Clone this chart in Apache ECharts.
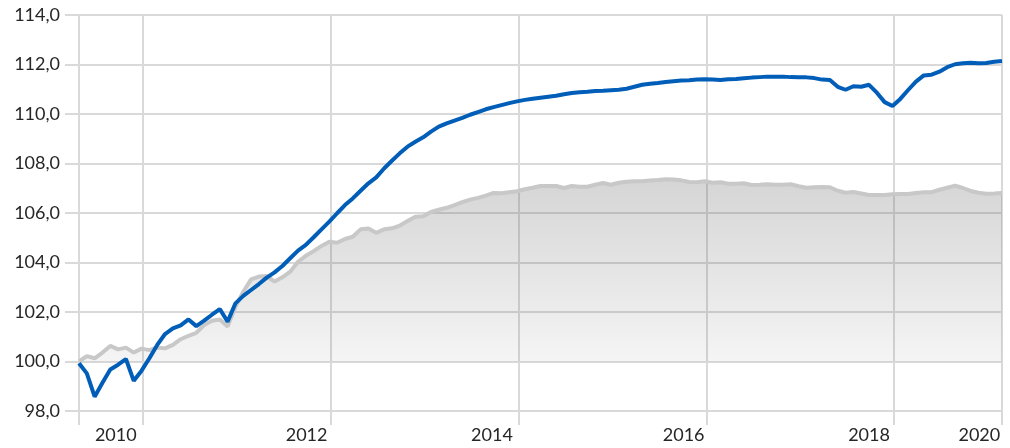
<!DOCTYPE html>
<html>
<head>
<meta charset="utf-8">
<script src="https://cdn.jsdelivr.net/npm/echarts@6/dist/echarts.min.js"></script>
<style>
  html, body { margin: 0; padding: 0; background: #fff; }
  #chart { width: 1010px; height: 448px; }
</style>
</head>
<body>
<div id="chart"></div>
<script>
// monthly index values, first point = index 0
const indexBlue = [
  99.93, 99.52, 98.58, 99.14, 99.68, 99.87, 100.10, 99.22, 99.63, 100.13,
  100.67, 101.11, 101.34, 101.46, 101.70, 101.43, 101.65, 101.89, 102.12, 101.61,
  102.35, 102.65, 102.89, 103.13, 103.39, 103.60, 103.86, 104.17, 104.48, 104.71,
  105.02, 105.34, 105.65, 105.99, 106.32, 106.59, 106.90, 107.20, 107.44, 107.80,
  108.11, 108.41, 108.68, 108.88, 109.06, 109.29, 109.49, 109.62, 109.73, 109.84,
  109.97, 110.08, 110.19, 110.28, 110.36, 110.44, 110.51, 110.57, 110.62, 110.66,
  110.70, 110.74, 110.80, 110.85, 110.88, 110.90, 110.93, 110.94, 110.96, 110.98,
  111.02, 111.10, 111.18, 111.22, 111.25, 111.29, 111.32, 111.35, 111.36, 111.39,
  111.40, 111.39, 111.37, 111.40, 111.41, 111.44, 111.47, 111.49, 111.51, 111.51,
  111.51, 111.49, 111.48, 111.48, 111.45, 111.39, 111.37, 111.10, 110.98, 111.12,
  111.10, 111.18, 110.86, 110.48, 110.32, 110.61, 110.97, 111.31, 111.56, 111.59,
  111.71, 111.89, 112.01, 112.05, 112.07, 112.05, 112.06, 112.11, 112.14
]
const indexGrey = [
  100.00, 100.22, 100.13, 100.36, 100.63, 100.49, 100.56, 100.36, 100.52, 100.46,
  100.57, 100.53, 100.67, 100.90, 101.04, 101.16, 101.47, 101.65, 101.70, 101.41,
  102.21, 102.82, 103.32, 103.43, 103.45, 103.23, 103.40, 103.63, 104.03, 104.27,
  104.46, 104.67, 104.84, 104.80, 104.95, 105.04, 105.34, 105.37, 105.20, 105.34,
  105.38, 105.49, 105.68, 105.85, 105.87, 106.04, 106.13, 106.21, 106.32, 106.44,
  106.54, 106.61, 106.70, 106.81, 106.80, 106.84, 106.88, 106.96, 107.02, 107.09,
  107.09, 107.09, 107.01, 107.09, 107.06, 107.06, 107.14, 107.21, 107.14, 107.22,
  107.26, 107.28, 107.28, 107.31, 107.33, 107.36, 107.35, 107.32, 107.25, 107.24,
  107.28, 107.22, 107.24, 107.18, 107.18, 107.20, 107.13, 107.14, 107.16, 107.14,
  107.14, 107.16, 107.08, 107.02, 107.04, 107.05, 107.04, 106.90, 106.82, 106.85,
  106.79, 106.73, 106.73, 106.73, 106.76, 106.77, 106.77, 106.81, 106.84, 106.84,
  106.94, 107.02, 107.10, 107.01, 106.89, 106.82, 106.78, 106.79, 106.81
]
const yearLabels = ['2010', '2012', '2014', '2016', '2018', '2020']

// where gridlines and year labels sit on the month index axis
const gridMonths = [0, 8.2, 32.2, 56.2, 80.2, 104.2, 118]
const labelMonths = [4.7, 29.1, 52.8, 77.3, 101.0, 115.1]

const gridColor = '#d9d9d9'
const textColor = '#262626'

const toPairs = (list) => list.map((v, i) => [i, v])

const chart = echarts.init(document.getElementById('chart'))
chart.setOption({
  animation: false,
  grid: { left: 79, right: 8, top: 15, bottom: 37 },
  xAxis: {
    type: 'value',
    min: 0,
    max: indexBlue.length - 1,
    axisLine: { show: false },
    axisTick: {
      show: true,
      length: 14,
      customValues: gridMonths,
      lineStyle: { color: gridColor, width: 2 }
    },
    splitLine: { show: true, lineStyle: { color: gridColor, width: 2 } },
    axisLabel: {
      customValues: labelMonths,
      margin: 15,
      color: textColor,
      fontFamily: 'Lato',
      fontSize: 18,
      formatter: (value) => {
        const k = labelMonths.indexOf(value)
        return k >= 0 ? yearLabels[k] : ''
      }
    }
  },
  yAxis: {
    type: 'value',
    min: 98,
    max: 114,
    interval: 2,
    axisLine: { show: false },
    axisTick: { show: true, length: 14, lineStyle: { color: gridColor, width: 2 } },
    splitLine: { lineStyle: { color: gridColor, width: 2 } },
    axisLabel: {
      margin: 19,
      color: textColor,
      fontFamily: 'Lato',
      fontSize: 18,
      formatter: (value) => value.toFixed(1).replace('.', ',')
    }
  },
  series: [
    {
      type: 'line',
      data: toPairs(indexGrey),
      showSymbol: false,
      lineStyle: { color: '#c8c8c8', width: 4 },
      areaStyle: {
        origin: 100,
        color: new echarts.graphic.LinearGradient(0, 0, 0, 1, [
          { offset: 0, color: 'rgba(90,90,90,0.36)' },
          { offset: 1, color: 'rgba(90,90,90,0.09)' }
        ])
      },
      z: 2
    },
    {
      type: 'line',
      data: toPairs(indexBlue),
      showSymbol: false,
      lineStyle: { color: '#005eb8', width: 4 },
      z: 3
    }
  ]
})
</script>
</body>
</html>
